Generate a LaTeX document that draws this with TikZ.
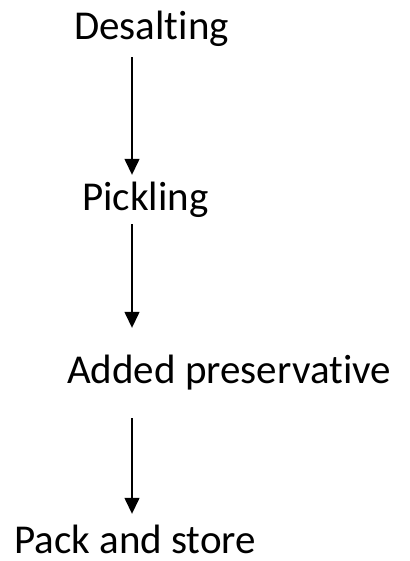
\documentclass[tikz,border=0pt]{standalone}
\usepackage{fontspec}
\setmainfont[RawFeature=-liga]{Carlito}
\usetikzlibrary{arrows.meta,positioning}

\begin{document}
\begin{tikzpicture}[x=1pt, y=-1pt, stage/.style={anchor=base west, inner sep=0pt, text height=25pt, text depth=4pt, font=\fontsize{41}{48}\selectfont}, flow/.style={-{Triangle[width=15pt,length=16pt]}, line width=1.4pt}]
\useasboundingbox (0,0) rectangle (409,561);
\coordinate (axis) at (132,0);
\node[stage] (desalt) at (74,40) {Desalting};
\node[stage] (pickle) at (82,211) {Pickling};
\node[stage] (added) at (67,383) {Added preservative};
\node[stage] (pack) at (14,553) {Pack and store};
\draw[flow, shorten <=13pt, shorten >=11pt] (desalt.south -| axis) -- (pickle.north -| axis);
\draw[flow, shorten <=9pt, shorten >=30pt] (pickle.south -| axis) -- (added.north -| axis);
\draw[flow, shorten <=31pt, shorten >=14pt] (added.south -| axis) -- (pack.north -| axis);
\end{tikzpicture}
\end{document}
